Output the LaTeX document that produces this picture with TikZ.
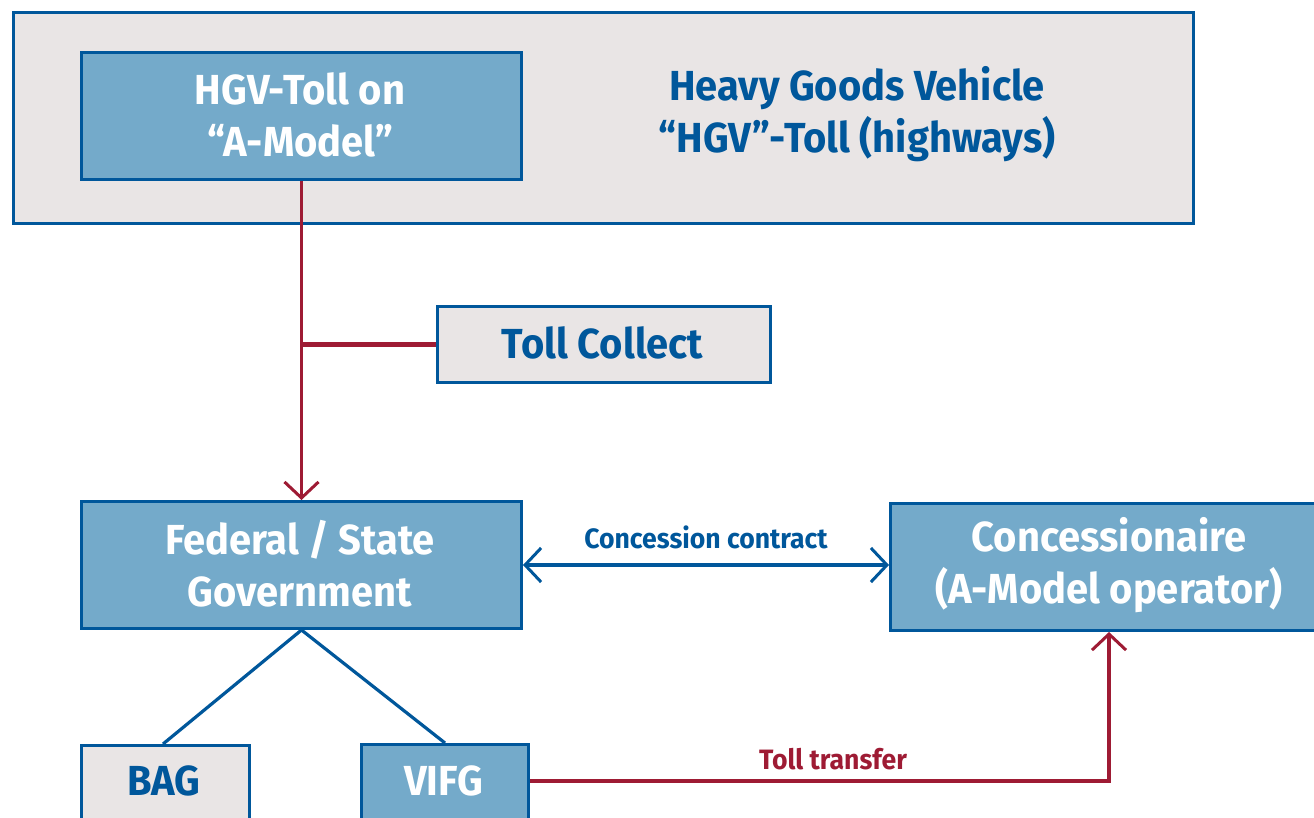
\documentclass[tikz,border=0pt]{standalone}
\usepackage{fontspec}
\setmainfont{Fira Sans}[FakeStretch=0.95]
\usetikzlibrary{arrows.meta}
\definecolor{dblue}{HTML}{00579B}
\definecolor{lblue}{HTML}{74AACA}
\definecolor{lgray}{HTML}{E9E5E5}
\definecolor{dred}{HTML}{9E1B34}
\tikzset{
  box/.style={draw=dblue, line width=3pt, inner sep=0pt, anchor=north west},
  bluebox/.style={box, fill=lblue, text=white},
  graybox/.style={box, fill=lgray, text=dblue},
  bigtxt/.style={font=\fontsize{42}{52}\selectfont\bfseries, align=center},
  smalltxt/.style={font=\fontsize{28}{32}\selectfont\bfseries},
  redline/.style={draw=dred, line width=3.2pt},
  blueline/.style={draw=dblue, line width=3.2pt}
}
\begin{document}
\begin{tikzpicture}[x=1pt,y=-1pt]
\useasboundingbox (0,0) rectangle (1314,818);
% outer frame
\node[graybox, minimum width=1180pt, minimum height=211pt] (outer) at (12,11) {};
\node[bluebox, minimum width=440pt, minimum height=127pt] (hgv) at (80,51) {};
\node[bigtxt, text=white] (hgvt) at (300,114.5) {HGV-Toll on\\“A-Model”};
\node[bigtxt, text=dblue] (hgvlabel) at (857,114.5) {Heavy Goods Vehicle\\“HGV”-Toll (highways)};
% toll collect
\node[graybox, minimum width=333pt, minimum height=76pt] (tc) at (436,305) {};
\node[bigtxt, text=dblue] (tct) at (602.5,343) {Toll Collect};
% federal
\node[bluebox, minimum width=440pt, minimum height=127pt] (fed) at (80,500) {};
\node[bigtxt, text=white] (fedt) at (300,563.5) {Federal / State\\Government};
% concessionaire
\node[bluebox, minimum width=440pt, minimum height=127pt] (con) at (889,502) {};
\node[bigtxt, text=white] (cont) at (1109,565.5) {Concessionaire\\(A-Model operator)};
% BAG / VIFG
\node[graybox, minimum width=168pt, minimum height=90pt] (bag) at (80,744) {};
\node[bigtxt, text=dblue] (bagt) at (164,781) {BAG};
\node[bluebox, minimum width=167pt, minimum height=90pt] (vifg) at (360,743) {};
\node[bigtxt, text=white] (vifgt) at (443.5,781) {VIFG};
% connectors
\coordinate (j) at (hgv.south |- tc.west);
\draw[redline, -{Straight Barb[length=16pt, width=34pt, line width=3pt]}] (hgv.south) -- (fed.north);
\draw[draw=dred, line width=5pt] (j) -- (tc.west);
\draw[blueline, {Straight Barb[length=16pt, width=34pt, line width=3pt]}-{Straight Barb[length=16pt, width=34pt, line width=3pt]}] (fed.east |- 0,565) -- (con.west |- 0,565) node[midway, above=11pt, smalltxt, text=dblue] (cc) {Concession contract};
\draw[blueline] (fed.south) -- (bag.north -| 163,0);
\draw[blueline] (fed.south) -- (vifg.north);
\coordinate (bend) at (1109,781);
\draw[redline, -{Straight Barb[length=16pt, width=34pt, line width=3pt]}] (vifg.east |- bend) -- (bend) -- (con.south -| bend);
\node[smalltxt, text=dred] (tt) at (833,759) {Toll transfer};
\end{tikzpicture}
\end{document}
